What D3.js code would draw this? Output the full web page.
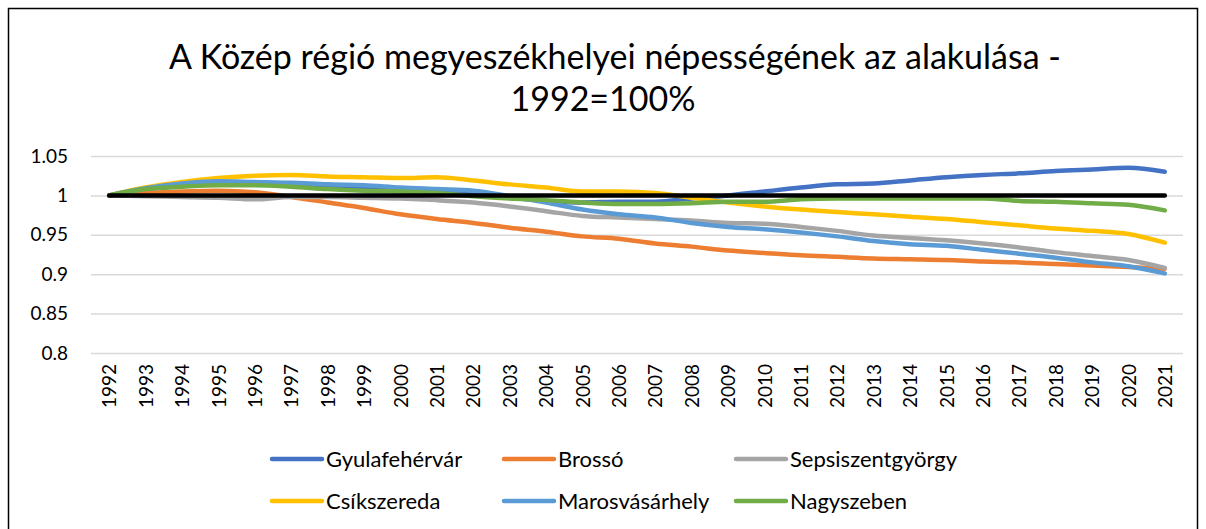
<!DOCTYPE html>
<html>
<head>
<meta charset="utf-8">
<script src="https://cdn.jsdelivr.net/npm/d3@7"></script>
<style>
  body { margin: 0; background: #fff; }
  svg { display: block; font-family: Lato, "Open Sans", sans-serif; }
</style>
</head>
<body>
<script>
// data (1992 = 1)
const years = ['1992','1993','1994','1995','1996','1997','1998','1999','2000','2001','2002','2003','2004','2005','2006','2007','2008','2009','2010','2011','2012','2013','2014','2015','2016','2017','2018','2019','2020','2021'];
const cityNames = ['Gyulafehérvár', 'Brossó', 'Sepsiszentgyörgy', 'Csíkszereda', 'Marosvásárhely', 'Nagyszeben'];
const gyulafehervar = [1, 1.008, 1.012, 1.015, 1.016, 1.014, 1.012, 1.010, 1.007, 1.004, 1.001, 0.997, 0.993, 0.991, 0.992, 0.992, 0.996, 1.000, 1.005, 1.010, 1.014, 1.015, 1.019, 1.023, 1.026, 1.028, 1.031, 1.033, 1.035, 1.030];
const brasso = [1, 1.003, 1.005, 1.006, 1.004, 0.998, 0.991, 0.984, 0.976, 0.970, 0.965, 0.959, 0.954, 0.948, 0.945, 0.939, 0.935, 0.930, 0.927, 0.924, 0.922, 0.920, 0.919, 0.918, 0.916, 0.915, 0.913, 0.911, 0.909, 0.907];
const sepsiszentgyorgy = [1, 0.999, 0.998, 0.997, 0.995, 0.998, 0.998, 0.997, 0.996, 0.994, 0.991, 0.986, 0.980, 0.974, 0.972, 0.970, 0.968, 0.965, 0.964, 0.960, 0.955, 0.949, 0.946, 0.943, 0.939, 0.934, 0.928, 0.923, 0.918, 0.908];
const csikszereda = [1, 1.010, 1.017, 1.022, 1.025, 1.026, 1.024, 1.023, 1.022, 1.023, 1.019, 1.014, 1.010, 1.005, 1.005, 1.003, 0.997, 0.991, 0.986, 0.982, 0.979, 0.976, 0.973, 0.970, 0.966, 0.962, 0.958, 0.955, 0.951, 0.940];
const marosvasarhely = [1, 1.009, 1.015, 1.018, 1.017, 1.016, 1.014, 1.013, 1.010, 1.008, 1.006, 0.999, 0.991, 0.982, 0.976, 0.972, 0.965, 0.960, 0.957, 0.953, 0.948, 0.942, 0.938, 0.936, 0.931, 0.926, 0.921, 0.915, 0.910, 0.901];
const nagyszeben = [1, 1.008, 1.011, 1.013, 1.013, 1.011, 1.008, 1.006, 1.005, 1.003, 0.999, 0.996, 0.994, 0.991, 0.989, 0.989, 0.990, 0.992, 0.992, 0.995, 0.996, 0.996, 0.996, 0.996, 0.996, 0.993, 0.992, 0.990, 0.988, 0.981];
const baseline = [1, 1, 1, 1, 1, 1, 1, 1, 1, 1, 1, 1, 1, 1, 1, 1, 1, 1, 1, 1, 1, 1, 1, 1, 1, 1, 1, 1, 1, 1];
const yTicks = [0.8, 0.85, 0.9, 0.95, 1, 1.05];

const colors = ['#4472C4', '#ED7D31', '#A5A5A5', '#FFC000', '#5B9BD5', '#70AD47'];
const seriesValues = [gyulafehervar, brasso, sepsiszentgyorgy, csikszereda, marosvasarhely, nagyszeben];

let width = 1206;
let height = 529;
let plotLeft = 91, plotRight = 1183, plotTop = 156, plotBottom = 353;

let svg = d3.select('body').append('svg')
  .attr('width', width)
  .attr('height', height);

// chart border
svg.append('rect')
  .attr('x', 8.5).attr('y', 8.5)
  .attr('width', 1189).attr('height', 540)
  .attr('fill', 'none')
  .attr('stroke', '#000')
  .attr('stroke-width', 1.5);

// title
let title = svg.append('text')
  .attr('text-anchor', 'middle')
  .attr('font-size', '34px')
  .attr('fill', '#000');
title.append('tspan').attr('x', 615).attr('y', 69).text('A Közép régió megyeszékhelyei népességének az alakulása -');
title.append('tspan').attr('x', 603).attr('y', 111).text('1992=100%');

let x = d3.scalePoint()
  .domain(years)
  .range([plotLeft, plotRight])
  .padding(0.5);

let y = d3.scaleLinear()
  .domain([0.8, 1.05])
  .range([plotBottom, plotTop]);

// horizontal gridlines + y labels
let yAxis = d3.axisLeft(y)
  .tickValues(yTicks)
  .tickSize(-(plotRight - plotLeft))
  .tickPadding(23)
  .tickFormat(d => String(d));
let gy = svg.append('g')
  .attr('transform', `translate(${plotLeft},0)`)
  .call(yAxis);
gy.select('.domain').remove();
gy.selectAll('.tick line').attr('stroke', '#d9d9d9').attr('stroke-width', 1.5);
gy.selectAll('.tick text').attr('font-size', '19px').attr('fill', '#000').attr('font-family', 'Lato, sans-serif');

// x labels rotated
let xAxis = d3.axisBottom(x).tickSize(0);
let gx = svg.append('g')
  .attr('transform', `translate(0,${plotBottom})`)
  .call(xAxis);
gx.select('.domain').remove();
gx.selectAll('.tick text')
  .attr('font-size', '19px')
  .attr('fill', '#000')
  .attr('font-family', 'Lato, sans-serif')
  .attr('transform', 'rotate(-90)')
  .attr('text-anchor', 'end')
  .attr('dx', '-11')
  .attr('dy', '0.35em')
  .attr('y', 0);

let line = d3.line()
  .x((d, i) => x(years[i]))
  .y(d => y(d))
  .curve(d3.curveMonotoneX);

svg.append('g').selectAll('path')
  .data(seriesValues)
  .enter()
  .append('path')
  .attr('d', line)
  .attr('fill', 'none')
  .attr('stroke', (d, i) => colors[i])
  .attr('stroke-width', 4.5)
  .attr('stroke-linecap', 'round')
  .attr('stroke-linejoin', 'round');

svg.append('path')
  .attr('d', line(baseline))
  .attr('fill', 'none')
  .attr('stroke', '#000')
  .attr('stroke-width', 4.5)
  .attr('stroke-linecap', 'round');

// legend (3 columns, 2 rows)
let legend = svg.append('g');
let items = legend.selectAll('g')
  .data(cityNames)
  .enter()
  .append('g')
  .attr('transform', (d, i) => `translate(${272 + (i % 3) * 232},${i < 3 ? 459 : 501})`);
items.append('line')
  .attr('x1', 0).attr('x2', 50)
  .attr('y1', 0).attr('y2', 0)
  .attr('stroke', (d, i) => colors[i])
  .attr('stroke-width', 4.5)
  .attr('stroke-linecap', 'round');
items.append('text')
  .attr('x', 54)
  .attr('y', 0)
  .attr('dy', '0.35em')
  .attr('font-size', '22px')
  .attr('fill', '#000')
  .text(d => d);
</script>
</body>
</html>
